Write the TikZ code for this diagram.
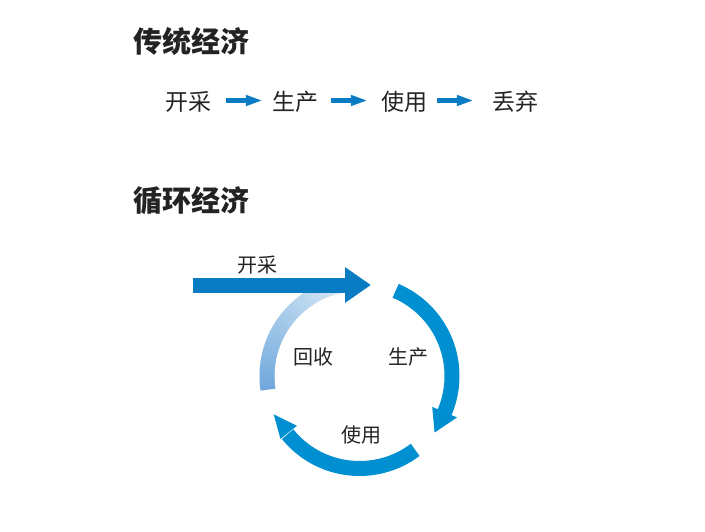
\documentclass[tikz,border=0pt]{standalone}
\usepackage{fontspec}
\newfontfamily\cjk{Noto Sans CJK SC}
\usetikzlibrary{arrows.meta}
\definecolor{arrowblue}{RGB}{10,124,196}
\definecolor{cycleblue}{RGB}{0,144,210}
\definecolor{gradA}{RGB}{112,168,220}
\definecolor{gradB}{RGB}{214,232,246}
\definecolor{txt}{RGB}{35,35,35}
\begin{document}
\begin{tikzpicture}[x=1pt,y=1pt,
  title/.style={font=\cjk\bfseries\fontsize{29}{29}\selectfont, text=txt, inner sep=0pt},
  rowtext/.style={font=\cjk\fontsize{23}{23}\selectfont, text=txt, inner sep=0pt},
  cyctext/.style={font=\cjk\fontsize{20}{20}\selectfont, text=txt, inner sep=0pt},
  flow/.style={arrowblue, line width=4.7pt, -{Triangle[length=17pt,width=10pt]}},
  ring/.style={cycleblue, line width=15pt},
]
\useasboundingbox (0,0) rectangle (705,-532);
% traditional economy
\node[title] (t1) at (191.5,-41) {传统经济};
\node[rowtext] (r1) at (188,-102) {开采};
\node[rowtext] (r2) at (295.5,-102) {生产};
\node[rowtext] (r3) at (404,-102) {使用};
\node[rowtext] (r4) at (515.5,-102) {丢弃};
\draw[flow, shorten <=15pt, shorten >=9.5pt] ([yshift=1.5pt]r1.east) -- ([yshift=1.5pt]r2.west);
\draw[flow, shorten <=12.5pt, shorten >=13pt] ([yshift=1.5pt]r2.east) -- ([yshift=1.5pt]r3.west);
\draw[flow, shorten <=10pt, shorten >=18.5pt] ([yshift=1.5pt]r3.east) -- ([yshift=1.5pt]r4.west);
% circular economy
\node[title] (t2) at (191.5,-201) {循环经济};
\coordinate (c) at (359.5,-376);
% recycling arc with gradient
\foreach \i in {0,...,57} {
  \pgfmathsetmacro\a{188.5-1.5*\i}
  \pgfmathsetmacro\b{\a-1.9}
  \pgfmathsetmacro\p{100-\i*100/57}
  \colorlet{segc}{gradA!\p!gradB}
  \draw[segc, line width=15pt] ([shift={(\a:92.5)}]c) arc[start angle=\a, end angle=\b, radius=92.5];
}
% production arc
\draw[ring] ([shift={(67:92.5)}]c) arc[start angle=67, end angle=-23.5, radius=92.5];
\fill[cycleblue] ([shift={(-23:79)}]c) -- ([shift={(-37:94)}]c) -- ([shift={(-23:106)}]c) -- cycle;
% use arc
\draw[ring] ([shift={(-53:92.5)}]c) arc[start angle=-53, end angle=-141, radius=92.5];
\fill[cycleblue] ([shift={(-141.5:80)}]c) -- ([shift={(-156:94)}]c) -- ([shift={(-141.5:101)}]c) -- cycle;
% extraction arrow
\coordinate (in) at (193,-285);
\coordinate (tip) at (371,-285);
\draw[arrowblue, line width=15pt, -{Triangle[length=26pt,width=34pt]}] (in) -- (tip);
% labels
\node[cyctext] (l1) at (257.5,-265) {开采};
\node[cyctext] (l2) at (313,-357) {回收};
\node[cyctext] (l3) at (408,-357) {生产};
\node[cyctext] (l4) at (361,-435) {使用};
\end{tikzpicture}
\end{document}
